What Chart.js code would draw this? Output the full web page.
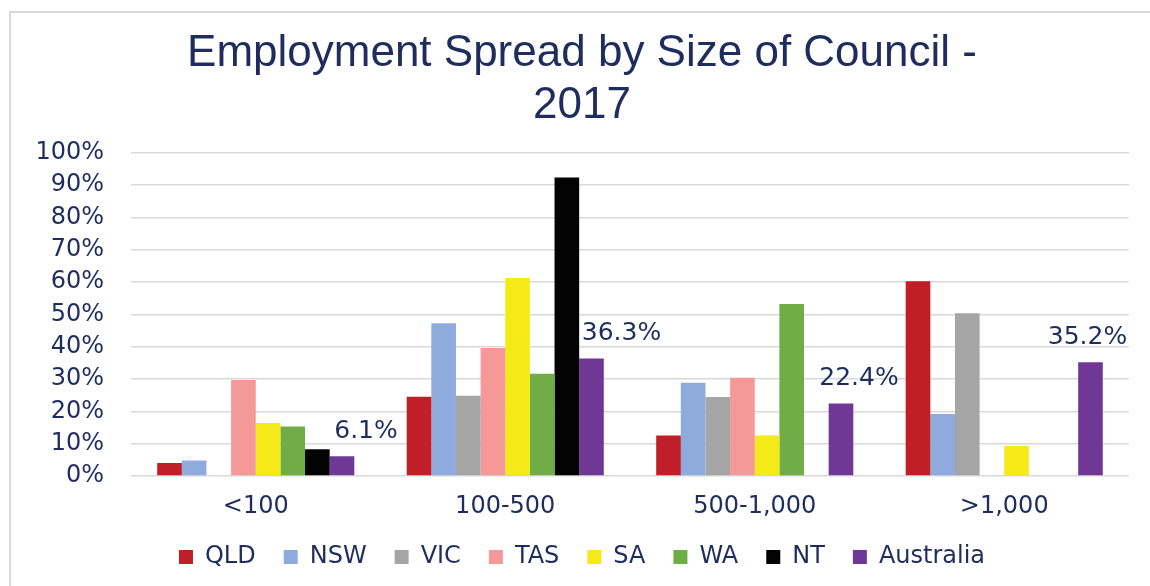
<!DOCTYPE html>
<html>
<head>
<meta charset="utf-8">
<script src="https://cdn.jsdelivr.net/npm/chart.js@4"></script>
<style>
  html, body { margin: 0; padding: 0; background: #fff; }
  #wrap { position: relative; width: 1150px; height: 586px; overflow: hidden; }
  #frame { position: absolute; left: 9px; top: 11px; width: 1200px; height: 700px;
           border-top: 2px solid #d9d9d9; border-left: 2px solid #d9d9d9; }
  canvas { position: absolute; left: 0; top: 0; }
</style>
</head>
<body>
<div id="wrap">
  <div id="frame"></div>
  <canvas id="chart" width="1150" height="586"></canvas>
</div>
<script>
// categories and series (percent)
const sizeLabels = ['<100', '100-500', '500-1,000', '>1,000'];
const qld = [4.0, 24.5, 12.5, 60.2];
const nsw = [4.8, 47.2, 28.8, 19.2];
const vic = [0, 24.8, 24.4, 50.3];
const tas = [29.7, 39.6, 30.4, 0];
const sa  = [16.4, 61.2, 12.5, 9.3];
const wa  = [15.3, 31.6, 53.2, 0];
const nt  = [8.3, 92.3, 0, 0];
const australia = [6.1, 36.3, 22.4, 35.2];

const navy = '#1f2d5e';

// labels above the Australia bars, nudged sideways like the original
const labelShift = [24, 30, 18, -3];
const australiaLabels = {
    id: 'australiaLabels',
    afterDatasetsDraw(chart) {
        const meta = chart.getDatasetMeta(7);
        const ctx = chart.ctx;
        ctx.save();
        ctx.font = '25px "DejaVu Sans"';
        ctx.fillStyle = navy;
        ctx.textAlign = 'center';
        ctx.textBaseline = 'middle';
        meta.data.forEach((bar, i) => {
            ctx.fillText(australia[i].toFixed(1) + '%', bar.x + labelShift[i], bar.y - 25);
        });
        ctx.restore();
    }
};

const ds = (label, data, color) => ({
    label: label,
    data: data,
    backgroundColor: color,
    borderWidth: 0
});

new Chart(document.getElementById('chart'), {
    type: 'bar',
    data: {
        labels: sizeLabels,
        datasets: [
            ds('QLD', qld, '#c01f28'),
            ds('NSW', nsw, '#8faadc'),
            ds('VIC', vic, '#a5a5a5'),
            ds('TAS', tas, '#f49898'),
            ds('SA', sa, '#f3ea17'),
            ds('WA', wa, '#70ad47'),
            ds('NT', nt, '#030303'),
            ds('Australia', australia, '#703896')
        ]
    },
    options: {
        responsive: false,
        animation: false,
        layout: { padding: { left: 35, right: 21, top: 0, bottom: 7 } },
        datasets: { bar: { categoryPercentage: 0.79, barPercentage: 1.0 } },
        scales: {
            x: {
                grid: { display: false, drawTicks: false },
                border: { display: false },
                ticks: { color: navy, padding: 16, font: { family: 'DejaVu Sans', size: 24 } },
                afterFit: scale => { scale.height = 41; }
            },
            y: {
                min: 0,
                max: 100,
                grid: { color: '#d9d9d9', lineWidth: 1.5, drawTicks: false },
                border: { display: false },
                ticks: {
                    stepSize: 10,
                    autoSkip: false,
                    padding: 27,
                    color: navy,
                    font: { family: 'DejaVu Sans', size: 24 },
                    callback: v => v + '%'
                },
                afterFit: scale => { scale.width = 96; }
            }
        },
        plugins: {
            title: {
                display: true,
                text: ['Employment Spread by Size of Council -', '2017'],
                color: navy,
                font: { family: 'Liberation Sans', size: 44, weight: 'normal', lineHeight: 1.2 },
                padding: { top: 27, bottom: 20 }
            },
            legend: {
                position: 'bottom',
                labels: {
                    color: navy,
                    boxWidth: 14,
                    boxHeight: 14,
                    padding: 28,
                    font: { family: 'DejaVu Sans', size: 24 }
                }
            },
            tooltip: { enabled: false }
        }
    },
    plugins: [australiaLabels]
});
</script>
</body>
</html>
